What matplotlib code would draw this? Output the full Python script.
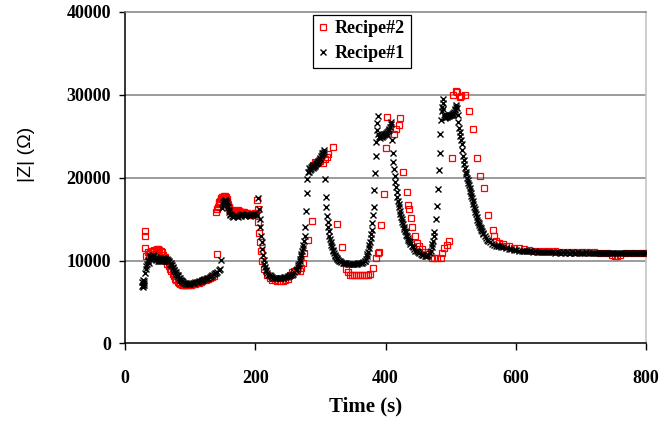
import matplotlib
matplotlib.use("Agg")
import matplotlib.pyplot as plt

# Recipe#1 (black x) - time (s) and |Z| (ohm)
t1 = [26, 26.5, 27, 27.5, 28, 28.5, 29, 29.5,
      31, 32, 33, 34, 35, 36, 37, 38, 39, 40, 41, 42, 43, 44, 45, 46, 47, 48, 49, 50,
      51, 52, 53, 54, 55, 56, 57, 58, 59, 60, 61, 62, 63, 64, 65, 66, 67, 68, 69, 70,
      71, 72, 73, 74, 75, 76, 77, 78, 79, 80, 81, 82, 83, 84, 85, 86, 87, 88, 89, 90,
      92, 94, 96, 98, 100, 102, 104, 106, 108, 110, 112, 114, 116, 118, 120, 122, 124, 126, 128, 130,
      132, 134, 136, 138, 140, 142, 144, 146, 148,
      149, 150, 151, 152, 153, 154, 155, 156, 157, 158, 159, 160, 161, 162, 164, 166, 168, 170,
      172, 174, 176, 178, 180, 182, 184, 186, 188, 190, 192, 194, 196, 198, 200, 202, 204,
      206, 207, 208, 209, 210, 211, 212, 213, 214, 215, 216, 217, 218,
      220, 222, 224, 226, 228, 230, 232, 234, 236, 238, 240, 242, 244, 246, 248, 250, 252, 254,
      256, 258, 260, 262, 264,
      265, 266, 267, 268, 269, 270, 271, 272, 273, 274, 275, 276, 277, 278, 279, 280, 281,
      282, 283, 284, 285, 286, 287, 288, 289, 290, 291, 292, 293, 294, 295, 296, 297, 298, 299,
      300, 301, 302, 303, 304, 305, 306,
      307, 308, 309, 310, 311, 312, 313, 314, 315, 316, 317, 318, 319, 320, 321, 322, 323, 324,
      325, 326, 327, 328,
      330, 332, 334, 336, 338, 340, 342, 344, 346, 348, 350, 352, 354, 356, 358, 360, 362, 364,
      366, 368,
      369, 370, 371, 372, 373, 374, 375, 376, 377, 378, 379, 380, 381, 382, 383, 384, 385, 386,
      387, 387.5, 388,
      389, 390, 391, 392, 393, 394, 395, 396, 397, 398, 399, 400, 401, 402, 403, 404, 405, 406,
      407, 408, 409, 410, 411, 412, 413, 414, 415, 416, 417, 418, 419, 420, 421, 422, 423, 424,
      425, 426, 427, 428, 429, 430, 431, 432, 433, 434, 435, 436, 437, 438,
      440, 442, 444, 446, 448, 450, 452, 454, 456, 458, 460, 462, 464, 466, 468, 470,
      471, 472, 473, 474, 475, 477, 479, 480, 482, 483, 484, 485, 487, 487.5, 488, 488.5, 489,
      490, 491, 492, 493, 494, 495, 496, 497, 498, 499, 500, 501, 502, 503, 504, 505, 506, 507,
      508, 509, 510,
      511, 512, 513, 514, 515, 516, 517, 518, 519, 520, 521, 522, 523, 524, 525, 526, 527, 528,
      529, 530, 531, 532, 533, 534, 535, 536, 537, 538, 539, 540, 541, 542, 543, 544, 545, 546,
      547, 548, 549, 550,
      552, 554, 556, 558, 560,
      563, 566, 569, 572, 575, 578, 581, 585, 589, 593, 597, 601, 605, 609,
      612, 615, 618, 621, 624, 627, 630, 633, 636, 639, 642, 645, 648, 651, 654, 657, 660, 663,
      666, 669, 672, 675, 678, 681, 684, 687, 690, 693, 696, 699, 702, 705, 708, 711, 714, 717,
      720, 723, 726, 729, 732, 735, 738, 741, 744, 747, 750, 753, 756, 759, 762, 765, 768, 771,
      774, 777, 780, 783, 786, 789, 792, 795, 798, 800]
z1 = [6900, 7400, 7100, 7600, 6800, 7300, 7000, 7500,
      8500, 9000, 9300, 9600, 9900, 10100, 9700, 10300, 10500, 10200,
      10600, 10400, 10700, 10300, 10500, 10200, 10400, 10100, 10300, 10000,
      10200, 9900, 10100, 9900, 10000, 10200, 10000, 10300, 10100, 10300,
      10200, 10300, 10100, 10200, 10000, 10100, 9800, 9900, 9600, 9700,
      9400, 9400, 9100, 9200, 8900, 8800, 8600, 8600, 8400, 8300,
      8200, 8100, 7900, 7900, 7700, 7700, 7500, 7500, 7400, 7300,
      7250, 7200, 7150, 7150, 7200, 7250, 7300, 7300, 7350, 7400,
      7450, 7500, 7550, 7600, 7700, 7750, 7800, 7900, 7950, 8050,
      8150, 8250, 8350, 8450, 8550, 8650, 8800, 8950, 10100,
      16300, 16700, 17000, 17200, 17300, 17300, 17200, 17000, 16700, 16400, 16100, 15800,
      15600, 15500, 15400, 15300, 15400, 15500,
      15400, 15300, 15500, 15400, 15600, 15500, 15400, 15500, 15600, 15500, 15400, 15500,
      15600, 15500, 15600, 15500, 17500,
      16200, 15000, 14000, 13000, 12200, 11400, 10700, 10100, 9600, 9200, 8900, 8700, 8500,
      8300, 8200, 8100, 8000, 7950, 7900, 7900, 7900, 7900, 7900, 7950, 7950, 8000, 8000,
      8050, 8100, 8150, 8200, 8300, 8400, 8600, 8800, 9000,
      9200, 9400, 9600, 9900, 10200, 10500, 10800, 11100, 11500, 11900, 12300, 12900, 14100,
      16000, 18100, 19800, 20700,
      20700, 21100, 20900, 21300, 21000, 21400, 21200, 21500, 21300, 21500, 21400, 21600,
      21700, 21800, 21900, 22000, 22100, 22200, 22400, 22600, 22700, 22900, 23000, 23100, 23300,
      19800, 17700, 16400, 15400, 14700, 14100, 13500, 13000, 12600, 12200, 11900, 11600,
      11300, 11100, 10900, 10700, 10500, 10400, 10300, 10200, 10100, 10000,
      9900, 9800, 9750, 9700, 9650, 9650, 9600, 9600, 9600, 9600, 9600, 9600, 9600, 9600,
      9650, 9650, 9700, 9700, 9800, 9900,
      10000, 10200, 10500, 10800, 11000, 11500, 11900, 12200, 12700, 13200, 13700, 14500,
      15500, 16500, 18500, 20500, 22600, 24300,
      25700, 26600, 27400,
      25200, 24900, 25000, 24800, 25000, 25100, 24900, 25000, 25200, 25100,
      25300, 25200, 25400, 25300, 25500, 25600, 25700, 25900, 26100, 26400,
      26700, 24500, 23000, 21900, 21000, 20200, 19500, 18900, 18300, 17700,
      17200, 16800, 16400, 16000, 15600, 15300, 15000, 14700, 14400, 14100,
      13800, 13600, 13400, 13100, 12900, 12700, 12500, 12300, 12200, 12000,
      11800, 11600, 11400, 11200, 11100, 11000, 10900, 10800, 10700, 10700, 10600, 10600,
      10600, 10700, 10900, 11200,
      11600, 12000, 12400, 12900, 13400, 15000, 16600, 18600, 20900, 23000, 25200, 26900,
      28000, 28500, 29000, 29500, 28300,
      27500, 27300, 27200, 27300, 27400, 27300, 27400, 27500, 27400, 27500, 27600, 27500,
      27700, 27600, 27800, 27900, 28100, 28300, 28500, 28700, 28400,
      27500, 26700, 26000, 25500, 25000, 24500, 24000, 23300, 22600, 22100,
      21600, 21100, 20700, 20400, 20000, 19700, 19400, 19100, 18700, 18400,
      18100, 17800, 17500, 17200, 16800, 16500, 16200, 15900, 15600, 15200,
      14900, 14700, 14500, 14300, 14100, 13900, 13700, 13500, 13300, 13200,
      12900, 12700, 12500, 12400, 12200,
      12000, 11900, 11800, 11700, 11700, 11600, 11600, 11500, 11400, 11400, 11300, 11300,
      11200, 11200,
      11150, 11150, 11100, 11100, 11100, 11050, 11100, 11050, 11050, 11000,
      11050, 11000, 11000, 11050, 11000, 11000, 10950, 11000, 11000, 10950,
      11000, 10950, 11000, 10950, 10950, 11000, 10950, 10950, 11000, 10950,
      10950, 10950, 11000, 10950, 10950, 10900, 10950, 10950, 10950, 10900,
      10950, 10950, 10900, 10950, 10950, 10900, 10950, 10950, 10900, 10950,
      10950, 10900, 10950, 10950, 10900, 10950, 10950, 10900, 10950, 10950,
      10900, 10950, 10950, 10950]

# Recipe#2 (red squares)
t2 = [30, 31, 31.5,
      33, 35, 37, 39, 41, 43, 45, 47, 49, 51, 53, 55, 57, 59, 61, 63, 65, 67, 69, 71,
      73, 75, 77, 79, 81, 83, 85, 87, 89, 91, 93, 95,
      98, 101, 104, 107, 110, 113, 116, 119, 122, 125, 128, 131, 134, 137, 141,
      140.5, 142, 143, 144, 145, 146, 147, 148, 149, 150, 151, 152, 153, 154, 155, 156, 157,
      158, 159, 160, 161,
      163, 165, 167, 169, 171, 173, 175, 177, 179, 181, 183, 185, 187, 189, 191, 193, 195,
      197, 199, 201, 202.5, 204,
      205, 206, 207, 209, 211, 214, 218, 222, 226, 230, 234, 238, 242, 246, 250, 253, 256,
      260, 264, 268, 271, 273, 275.5, 281, 287,
      289, 292, 296, 300, 304, 307, 310, 312, 319, 325, 333, 340, 343, 346, 349, 352, 355,
      358, 361, 364, 367, 370, 373, 376, 381, 385.5, 388, 390, 393, 397, 401,
      403, 412.5, 415.5, 420, 423, 427, 432.5, 434, 436, 438.5, 441, 445, 449, 452, 455.5,
      460.5, 466, 471, 475, 479, 485, 487, 489.7, 494, 497, 501.5, 504, 507.7, 510, 513.8,
      516, 522, 528.5, 534.7, 540.4, 545.5, 551.6, 556.7, 564.4, 566, 569.5, 574.6, 580, 585,
      590, 597, 605, 612, 620, 630,
      640, 650, 660, 670, 680, 690, 700, 710, 720, 730, 740, 748, 752, 756, 760, 770, 780,
      790, 800]
z2 = [13600, 13000, 11500,
      10500, 11000, 10800, 11000, 11100, 11200, 11300, 11300, 11400, 11400, 11300, 11200,
      11000, 10700, 10400, 10000, 9600, 9300, 9000, 8700,
      8400, 8100, 7800, 7600, 7400, 7250, 7150, 7100, 7050, 7000, 7000, 7000,
      7050, 7100, 7150, 7200, 7250, 7300, 7400, 7500, 7600, 7700, 7800, 7900, 8000, 8100, 10800,
      15900, 16200, 16500, 16800, 17000, 17200, 17400, 17500, 17600, 17700, 17700, 17800,
      17800, 17700, 17600, 17400, 17100, 16800, 16500, 16300, 16100,
      16000, 16100, 16000, 15900, 16000, 16100, 16000, 15900, 15900, 15800, 15800, 15700,
      15700, 15600, 15600, 15500, 15500, 15600, 15700, 15700, 17300, 16200,
      14600, 13300, 12200, 11200, 10000, 9000, 8200, 7900, 7700, 7600, 7550, 7550, 7550,
      7600, 7800, 8200, 8600, 8700, 8800, 8700, 9100, 9700, 10900, 12500, 14800,
      21500, 21900, 21700, 22000, 21800, 22200, 22500, 22800, 23700, 14400, 11600, 9000,
      8600, 8300, 8200, 8200, 8200, 8300, 8200, 8200, 8300, 8200, 8300, 8400,
      9100, 10300, 10900, 11000, 14300, 18000, 23600,
      27300, 25300, 25800, 26300, 27150, 20700, 18200, 16700, 16200,
      15100, 14000, 13000, 12100, 11700, 11400, 11000, 10800, 10300, 10250,
      10250, 10300, 10900, 11500, 11900, 12400, 22300, 29900, 30400, 30300,
      29700, 29800, 29900, 28000, 25900, 22300, 20150, 18800, 15500,
      13700, 12900, 12400, 12100, 11950, 11800, 11700, 11550, 11450, 11350, 11250, 11200,
      11150, 11100, 11100, 11050, 11050, 11000, 11000, 11000, 11000, 10950, 10900, 10650,
      10600, 10600, 10650, 10950, 10950, 10950, 10950]

x_ticks = [0, 200, 400, 600, 800]
y_ticks = [0, 10000, 20000, 30000, 40000]

serif_bold = {"family": "Liberation Serif", "weight": "bold"}

fig = plt.figure(figsize=(6.63, 4.23), dpi=100)
ax = fig.add_axes([0.1885, 0.188, 0.7859, 0.7845])

ax.plot(t2, z2, ls="none", marker="s", ms=4.2, mfc="none", mec="#ff0000", mew=0.9,
        label="Recipe#2", zorder=3)
ax.plot(t1, z1, ls="none", marker="x", ms=4.8, color="black", mew=1.0,
        label="Recipe#1", zorder=4)

ax.set_xlim(0, 800)
ax.set_ylim(0, 40000)
ax.set_xticks(x_ticks)
ax.set_yticks(y_ticks)
ax.set_xticklabels([str(v) for v in x_ticks], fontdict=serif_bold, fontsize=13)
ax.set_yticklabels([str(v) for v in y_ticks], fontdict=serif_bold, fontsize=13)
ax.tick_params(axis="y", direction="out", length=4, width=1, pad=6)
ax.tick_params(axis="x", direction="out", length=5, width=1, pad=14)

# horizontal gridlines like the original sheet
for v in y_ticks[1:-1]:
    ax.axhline(v, color="#808080", lw=1.1, zorder=1)

ax.spines["left"].set_color("black")
ax.spines["bottom"].set_color("black")
ax.spines["top"].set_color("#808080")
ax.spines["right"].set_color("#c0c0c0")
for s in ax.spines.values():
    s.set_linewidth(1.1)

ax.set_xlabel("Time (s)", fontdict=serif_bold, fontsize=15)
ax.xaxis.set_label_coords(0.4626, -0.16)
ax.set_ylabel("|Z| (\u03a9)", family="Liberation Sans", fontsize=14)
ax.yaxis.set_label_coords(-0.172, 0.571)

leg = ax.legend(loc="upper left", bbox_to_anchor=(0.36, 0.99), borderaxespad=0,
                prop={"family": "Liberation Serif", "weight": "bold", "size": 13},
                handlelength=0.6, handletextpad=0.35, borderpad=0.3, labelspacing=0.45,
                fancybox=False, edgecolor="black", framealpha=1, markerscale=1.0)
leg.get_frame().set_linewidth(0.9)

fig.savefig("out.png", dpi=100, facecolor="white")
